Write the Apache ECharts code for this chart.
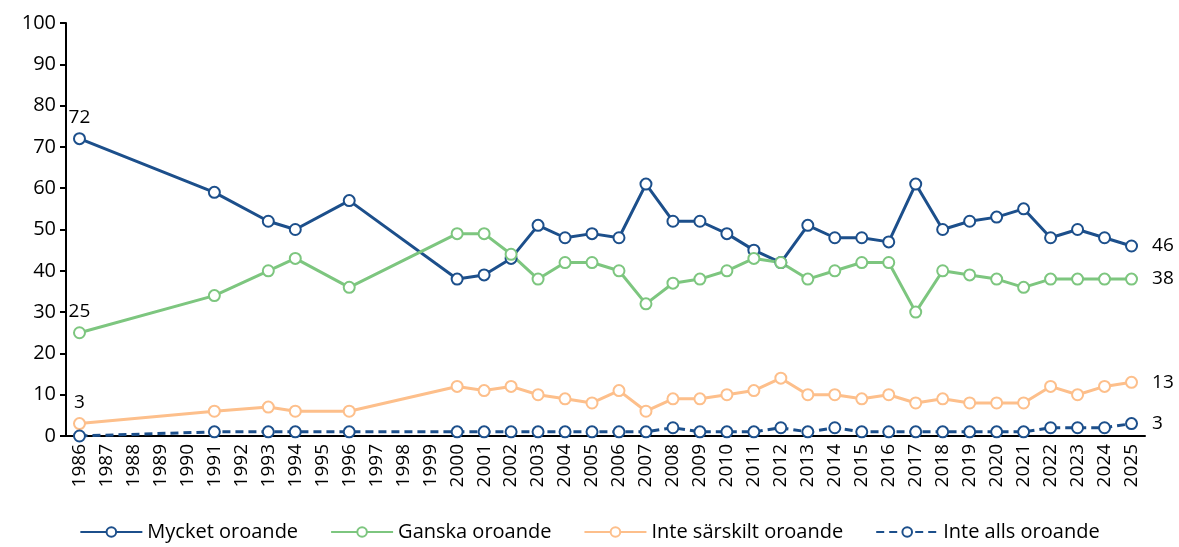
<!DOCTYPE html>
<html>
<head>
<meta charset="utf-8">
<script src="https://cdn.jsdelivr.net/npm/echarts@6/dist/echarts.min.js"></script>
<style>
  html, body { margin: 0; padding: 0; background: #fff; }
  #chart { width: 1179px; height: 547px; }
</style>
</head>
<body>
<div id="chart"></div>
<script>
// alla år på x-axeln
var years = ['1986','1987','1988','1989','1990','1991','1992','1993','1994','1995','1996','1997','1998','1999',
  '2000','2001','2002','2003','2004','2005','2006','2007','2008','2009','2010','2011','2012','2013','2014',
  '2015','2016','2017','2018','2019','2020','2021','2022','2023','2024','2025']
// år med mätning
var surveyYears = ['1986','1991','1993','1994','1996','2000','2001','2002','2003','2004','2005','2006','2007',
  '2008','2009','2010','2011','2012','2013','2014','2015','2016','2017','2018','2019','2020','2021','2022',
  '2023','2024','2025']
var mycket = [72,59,52,50,57,38,39,43,51,48,49,48,61,52,52,49,45,42,51,48,48,47,61,50,52,53,55,48,50,48,46]
var ganska = [25,34,40,43,36,49,49,44,38,42,42,40,32,37,38,40,43,42,38,40,42,42,30,40,39,38,36,38,38,38,38]
var inteSarskilt = [3,6,7,6,6,12,11,12,10,9,8,11,6,9,9,10,11,14,10,10,9,10,8,9,8,8,8,12,10,12,13]
var inteAlls = [0,1,1,1,1,1,1,1,1,1,1,1,1,2,1,1,1,2,1,2,1,1,1,1,1,1,1,2,2,2,3]
var yTicks = [0,10,20,30,40,50,60,70,80,90,100]

var font = 'Open Sans'

function buildData (values, showFirst) {
  return values.map(function (v, i) {
    var item = { value: [surveyYears[i], v] }
    if (i === 0 && showFirst) {
      item.label = { show: true, position: 'top', distance: 5 }
    } else if (i === values.length - 1) {
      item.label = { show: true, position: 'right', distance: 14 }
    }
    return item
  })
}

function makeSeries (name, color, values, showFirst, dashed) {
  return {
    name: name,
    type: 'line',
    symbol: 'circle',
    symbolSize: 11,
    data: buildData(values, showFirst),
    lineStyle: { color: color, width: 3, type: dashed ? [8, 5] : 'solid' },
    itemStyle: { color: '#fff', borderColor: color, borderWidth: 2 },
    label: { show: false, color: '#000', fontSize: 19, fontFamily: font, formatter: function (p) { return p.value[1] } },
    emphasis: { disabled: true },
    z: dashed ? 5 : 3
  }
}

var chart = echarts.init(document.getElementById('chart'))
chart.setOption({
  animation: false,
  textStyle: { fontFamily: font },
  grid: { left: 66, right: 34, top: 23, bottom: 111 },
  legend: {
    bottom: 0,
    left: 'center',
    itemWidth: 62,
    itemHeight: 12,
    itemGap: 32,
    textStyle: { fontSize: 20, color: '#000', fontFamily: font },
    data: ['Mycket oroande', 'Ganska oroande', 'Inte särskilt oroande', 'Inte alls oroande']
  },
  xAxis: {
    type: 'category',
    data: years,
    boundaryGap: true,
    axisLine: { lineStyle: { color: '#000', width: 2 } },
    axisTick: { alignWithLabel: true, length: 5, lineStyle: { color: '#000', width: 2 } },
    axisLabel: { rotate: 90, interval: 0, color: '#000', fontSize: 19, fontFamily: font, margin: 8 }
  },
  yAxis: {
    type: 'value',
    min: yTicks[0],
    max: yTicks[yTicks.length - 1],
    interval: 10,
    splitLine: { show: false },
    axisLine: { show: true, lineStyle: { color: '#000', width: 2 } },
    axisTick: { show: true, length: 6, lineStyle: { color: '#000', width: 2 } },
    axisLabel: { color: '#000', fontSize: 20, fontFamily: font, margin: 10 }
  },
  series: [
    makeSeries('Mycket oroande', '#1c4f8b', mycket, true, false),
    makeSeries('Ganska oroande', '#7dc67f', ganska, true, false),
    makeSeries('Inte särskilt oroande', '#fdbf8b', inteSarskilt, true, false),
    makeSeries('Inte alls oroande', '#1c4f8b', inteAlls, false, true)
  ]
})
</script>
</body>
</html>
